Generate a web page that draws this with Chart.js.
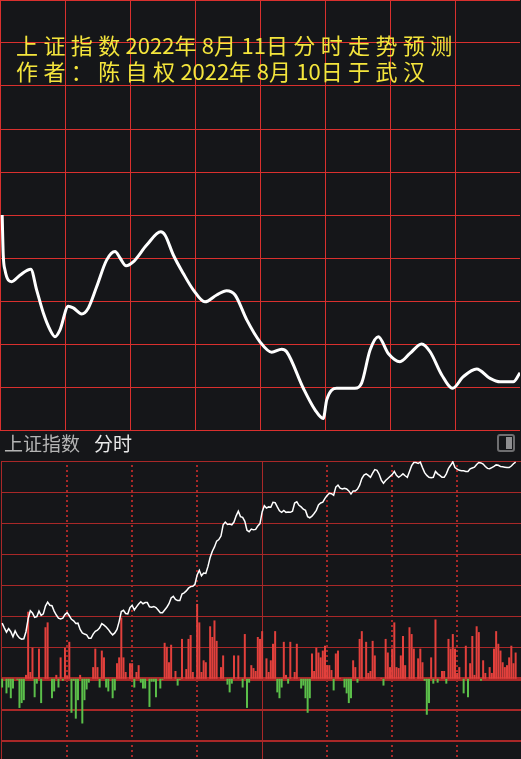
<!DOCTYPE html>
<html><head><meta charset="utf-8">
<script src="https://cdn.jsdelivr.net/npm/chart.js@4.4.0/dist/chart.umd.min.js"></script>
<style>
html,body{margin:0;padding:0;background:#151619;width:521px;height:759px;overflow:hidden;}
#top{position:absolute;left:0;top:0;}
#bot{position:absolute;left:0;top:455px;}
.title{position:absolute;left:16px;font-family:"Noto Sans CJK SC";font-size:22px;line-height:26px;color:#f4e53c;white-space:nowrap;}
.title .c{letter-spacing:5.4px;}
.hdr{position:absolute;top:431px;font-family:"Noto Sans CJK SC";font-size:19px;line-height:24px;white-space:nowrap;}
#icon{position:absolute;left:497px;top:434px;width:14px;height:14px;border:2px solid #6e6e70;border-radius:3px;}
#icon div{position:absolute;right:1px;top:1px;width:6px;height:12px;background:#8e8e90;}
</style></head>
<body>
<canvas id="top" width="521" height="431"></canvas>
<div class="title" style="top:31px"><span class="c">上证指数</span>2022<span class="c">年</span>8<span class="c">月</span>11<span class="c">日分时走势预测</span></div>
<div class="title" style="top:57px"><span class="c">作者：陈自权</span>2022<span class="c">年</span>8<span class="c">月</span>10<span class="c">日于武汉</span></div>
<div class="hdr" style="left:4px;color:#b4b4b4">上证指数</div>
<div class="hdr" style="left:94px;color:#e8e8e8">分时</div>
<div id="icon"><div></div></div>
<canvas id="bot" width="521" height="304"></canvas>
<script>
// ---------- forecast (top panel) ----------
const forecastMinutes = [1.0,1.5,2.3,5.4,9.2,14.2,16.9,20.0,23.1,25.4,27.7,31.5,33.8,37.7,40.8,44.6,49.2,53.1,55.4,58.2,
  61.5,67.7,74.2,76.2,80.0,84.6,89.2,94.6,100.0,104.6,108.5,113.9,120.0,125.4,130.0,132.3,140.0,145.4,149.2,150.8,
  155.4,163.8,166.9,170.8,174.6,179.2,184.6,189.2,194.6,198.5,203.9,208.9,213.8,220.0,226.2,230.8,236.9,240.0];
const forecastValues = [3250.0,3240.7,3237.2,3234.5,3236.0,3237.4,3232.6,3227.2,3223.3,3221.7,3223.3,3228.8,3228.4,3227.0,3228.4,3233.3,3239.5,3241.5,3240.0,3238.2,
  3239.1,3243.0,3246.1,3245.3,3240.7,3236.4,3232.6,3229.8,3231.4,3232.4,3231.4,3225.6,3220.5,3218.1,3218.8,3218.2,3209.7,3204.7,3202.7,3207.0,
  3209.7,3209.7,3210.9,3218.6,3221.7,3217.8,3215.9,3217.8,3220.0,3218.2,3212.8,3209.7,3212.4,3214.2,3212.0,3211.2,3211.2,3213.3];
const forecastXTicks = [0,30,60,90,120,150,180,210];
const forecastYTicks = [3200,3210,3220,3230,3240,3250,3260,3270,3280,3290,3300];

// ---------- actual intraday (bottom panel) ----------
const price = [
3244.3,3243.1,3242.0,3242.9,3242.1,3240.8,3242.3,3241.2,3240.5,3240.2,
3240.3,3242.1,3245.4,3247.5,3246.9,3245.8,3246.0,3247.4,3246.3,3246.7,
3248.7,3249.7,3248.9,3248.8,3247.4,3246.4,3245.6,3245.4,3245.6,3246.5,
3247.0,3246.2,3245.3,3244.9,3244.2,3244.3,3242.7,3241.8,3241.5,3241.3,
3240.4,3240.4,3241.5,3242.2,3242.5,
3243.1,3244.2,3243.8,3243.3,3242.7,3241.9,3241.3,3241.8,3242.7,3244.7,
3247.3,3247.6,3246.8,3246.7,3248.3,3248.9,3247.7,3248.5,3249.2,3249.8,
3249.3,3249.6,3249.6,3248.5,3248.4,3248.6,3248.3,3247.7,3247.0,3247.0,
3247.7,3248.4,3249.3,3250.8,3251.2,3250.4,3250.1,3250.1,3251.8,3252.1,
3252.6,3253.3,3253.7,3253.8,3254.3,3256.7,3257.9,3256.5,3257.2,3257.1,
3258.9,3261.2,3262.8,3263.9,3265.4,3265.8,3266.7,3269.6,3270.3,3269.7,
3269.8,3269.6,3270.3,3271.9,3273.1,3271.7,3271.5,3270.5,3268.2,3267.8,
3268.5,3268.3,3268.4,3269.3,3269.9,3272.9,3274.5,3273.9,3274.2,3274.1,
3275.4,3275.3,3274.2,3273.2,3272.8,3273.3,3272.8,3272.9,3272.8,3273.1,
3275.2,3275.5,3274.6,3274.2,3273.6,3273.3,3271.7,3271.4,3271.8,3272.5,
3273.3,3274.7,3275.2,
3275.4,3276.4,3277.1,3277.7,3277.6,3277.2,3279.3,3279.8,3279.0,3278.8,
3279.0,3278.8,3278.3,3277.5,3278.3,3278.3,3278.8,3279.8,3281.5,3282.4,
3282.7,3282.3,3281.8,3282.9,3283.8,3283.6,3282.6,3281.1,3280.3,3281.0,
3281.5,3282.0,3282.5,3283.3,3282.3,3281.8,3282.2,3282.7,3282.2,3281.8,
3283.3,3284.8,3285.6,3285.6,3285.4,3285.7,3284.3,3283.0,3282.3,3281.8,
3281.7,3281.8,3283.3,3282.7,3282.3,3281.8,3281.8,3282.7,3284.1,3284.9,
3285.8,3284.3,3283.9,3283.6,3283.5,3283.5,3283.3,3283.3,3284.0,3284.2,
3284.4,3285.1,3285.6,3285.5,3285.2,3284.6,3284.1,3284.0,3284.3,3284.6,
3285.0,3284.9,3284.6,3284.5,3284.4,3284.3,3284.3,3284.7,3285.3,3285.7];
const volume = [
-9,0,-15,-9,-20,-10,0,-1,-30,-25,
-22,4,69,7,32,-19,-5,31,-25,0,
53,58,0,-20,-13,4,-9,22,-2,32,
3,38,-35,-2,-41,-22,4,-46,-22,-11,
-4,0,12,31,12,-9,29,22,-9,-13,
0,-20,-12,16,22,63,22,7,0,16,
16,-9,7,14,-4,-10,-10,0,-29,-3,
-3,-19,0,-10,-1,37,33,17,35,0,
8,-7,-1,41,0,10,41,45,7,0,
77,58,7,19,17,0,54,43,60,39,
0,12,24,0,-6,-14,-5,24,0,24,
0,-9,46,-30,-4,14,11,8,43,41,
49,0,21,7,19,36,49,-14,-20,-9,
38,4,-5,38,0,7,36,0,-10,-7,
-20,-35,-20,26,8,32,27,22,29,34,
14,14,9,-12,26,29,1,0,-9,-15,
-25,-20,19,12,-4,41,49,0,38,6,
8,39,24,0,0,1,-7,41,27,12,
31,58,12,11,24,44,14,0,53,46,
31,0,21,31,17,-2,-37,-25,22,-5,
61,-4,0,8,8,-5,41,31,46,31,
6,12,0,-15,34,-19,16,44,4,54,
48,-2,19,6,0,12,6,31,49,36,
29,17,12,14,22,34,16,27];
const priceTicks = [3214,3222,3230,3238,3246,3254,3262,3270,3278,3286];
const prevClose = 3230;
const sessionMarks = [30,60,90,120,150,180,210];
const middayMark = 120;

const TOP_RED = '#d9302e', BOT_RED = '#a92828', BAR_RED = '#e2403c', BAR_GREEN = '#5bbf4a';

// ---------- top chart ----------
new Chart(document.getElementById('top'), {
  type: 'line',
  data: { datasets: [{
    data: forecastMinutes.map((m, i) => ({x: m, y: forecastValues[i]})),
    borderColor: '#ffffff', borderWidth: 3, pointRadius: 0,
    cubicInterpolationMode: 'monotone', fill: false
  }]},
  options: {
    responsive: false, animation: false, devicePixelRatio: 1,
    layout: { padding: { left: 0, right: 1, top: 0, bottom: 1 } },
    plugins: { legend: { display: false }, tooltip: { enabled: false } },
    scales: {
      x: { type: 'linear', min: 0, max: 240, offset: false,
        afterBuildTicks: s => { s.ticks = forecastXTicks.map(v => ({value: v})); },
        ticks: { display: false },
        grid: { drawTicks: false, lineWidth: 1, color: TOP_RED },
        border: { display: false } },
      y: { min: 3200, max: 3300,
        afterBuildTicks: s => { s.ticks = forecastYTicks.map(v => ({value: v})); },
        ticks: { display: false },
        grid: { drawTicks: false, lineWidth: 1, color: TOP_RED },
        border: { display: false } }
    }
  }
});

// ---------- bottom chart ----------
const vlines = {
  id: 'vlines',
  beforeDatasetsDraw(chart) {
    const {ctx, chartArea, scales: {x}} = chart;
    ctx.save();
    ctx.strokeStyle = BOT_RED;
    ctx.lineWidth = 1;
    ctx.beginPath();
    ctx.moveTo(chartArea.left + 0.5, chartArea.top);
    ctx.lineTo(chartArea.left + 0.5, chart.height);
    ctx.stroke();
    sessionMarks.forEach(v => {
      const px = Math.round(x.getPixelForValue(v));
      ctx.beginPath();
      if (v === middayMark) {
        ctx.lineWidth = 1; ctx.setLineDash([]);
        ctx.moveTo(px + 0.5, chartArea.top); ctx.lineTo(px + 0.5, chart.height);
      } else {
        ctx.lineWidth = 2; ctx.setLineDash([2, 3]);
        ctx.moveTo(px, chartArea.top + 4); ctx.lineTo(px, chart.height);
      }
      ctx.stroke();
    });
    ctx.restore();
  }
};
const minutes = price.map((_, i) => i);
new Chart(document.getElementById('bot'), {
  data: { datasets: [
    { type: 'line', yAxisID: 'y', order: 0,
      data: minutes.map((m, i) => ({x: m, y: price[i]})),
      borderColor: '#ffffff', borderWidth: 1.5, pointRadius: 0, tension: 0, fill: false },
    { type: 'bar', yAxisID: 'yv', order: 1,
      data: minutes.map((m, i) => ({x: m, y: volume[i]})),
      backgroundColor: volume.map(v => v >= 0 ? BAR_RED : BAR_GREEN),
      borderWidth: 0, barPercentage: 1, categoryPercentage: 0.92 }
  ]},
  options: {
    responsive: false, animation: false, devicePixelRatio: 1,
    layout: { padding: { left: 1, right: 0, top: 6, bottom: 10 } },
    plugins: { legend: { display: false }, tooltip: { enabled: false } },
    scales: {
      x: { type: 'linear', min: -0.526, max: 239.47, offset: false,
        ticks: { display: false }, grid: { display: false, offset: false }, border: { display: false } },
      y: { min: 3214, max: 3286,
        afterBuildTicks: s => { s.ticks = priceTicks.map(v => ({value: v})); },
        ticks: { display: false },
        grid: { drawTicks: false, color: BOT_RED,
          lineWidth: c => { const v = c.tick ? c.tick.value : 0; return v === prevClose ? 4 : (v < prevClose ? 2 : 1); } },
        border: { display: false } },
      yv: { min: -64, max: 224, display: false }
    }
  },
  plugins: [vlines]
});
</script>
</body></html>
